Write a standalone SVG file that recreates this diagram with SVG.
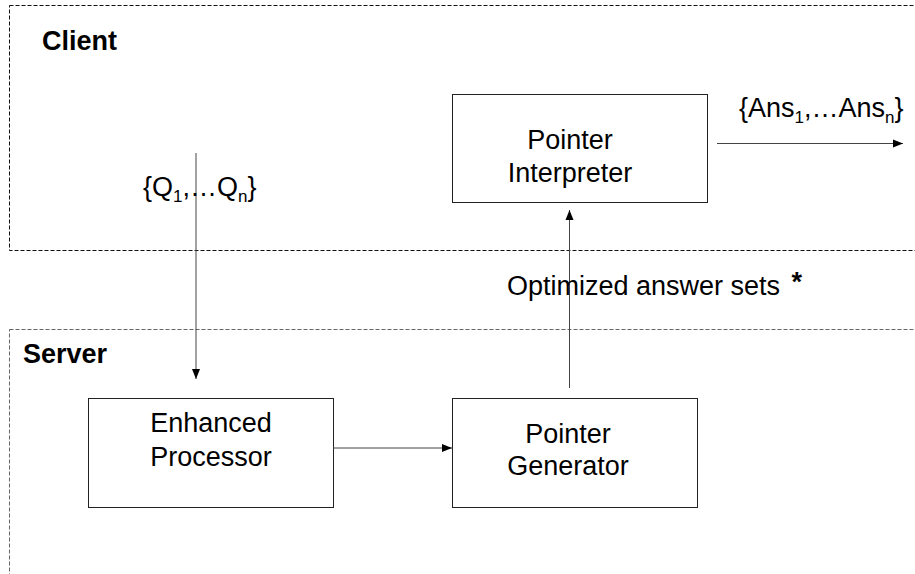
<svg xmlns="http://www.w3.org/2000/svg" width="915" height="574" viewBox="0 0 915 574">
  <style>
    .zone-client { fill: none; stroke: #111; stroke-width: 1; stroke-dasharray: 4 2; }
    .zone-server { fill: none; stroke: #666; stroke-width: 1; stroke-dasharray: 4 2; }
    .box { fill: #fff; stroke: #222; stroke-width: 1; }
    .label { font-family: "Liberation Sans", Arial, sans-serif; font-size: 27px; fill: #000; }
    .title { font-family: "Liberation Sans", Arial, sans-serif; font-size: 27px; font-weight: bold; fill: #000; }
    .edge { fill: none; stroke: #444; stroke-width: 1; }
    .sub { font-family: "Liberation Sans", Arial, sans-serif; font-size: 17px; }
  </style>
  <defs>
    <marker id="arrow" viewBox="0 0 10 10" refX="10" refY="5" markerWidth="10" markerHeight="10" markerUnits="userSpaceOnUse" orient="auto">
      <path d="M0,1 L10,5 L0,9 Z" fill="#000"/>
    </marker>
  </defs>

  <rect width="915" height="574" fill="#fff"/>

  <!-- tier zones -->
  <g id="client-zone">
    <rect class="zone-client" x="9.5" y="5.5" width="920" height="245"/>
    <text class="title" x="42" y="50">Client</text>
  </g>
  <g id="server-zone">
    <rect class="zone-server" x="9.5" y="329.5" width="920" height="260"/>
    <text class="title" x="23" y="363">Server</text>
  </g>

  <!-- nodes -->
  <g id="pointer-interpreter">
    <rect class="box" x="452.5" y="94.5" width="255" height="108"/>
    <text class="label" text-anchor="middle" x="570" y="149">Pointer</text>
    <text class="label" text-anchor="middle" x="570" y="182">Interpreter</text>
  </g>
  <g id="enhanced-processor">
    <rect class="box" x="88.5" y="398.5" width="245" height="109"/>
    <text class="label" text-anchor="middle" x="211" y="432">Enhanced</text>
    <text class="label" text-anchor="middle" x="211" y="466">Processor</text>
  </g>
  <g id="pointer-generator">
    <rect class="box" x="452.5" y="398.5" width="245" height="109"/>
    <text class="label" text-anchor="middle" x="568" y="443">Pointer</text>
    <text class="label" text-anchor="middle" x="568" y="475">Generator</text>
  </g>

  <!-- connectors -->
  <g id="connectors">
    <line class="edge" x1="196" y1="153" x2="196" y2="379" marker-end="url(#arrow)"/>
    <line class="edge" x1="333" y1="448" x2="452" y2="448" marker-end="url(#arrow)"/>
    <line class="edge" x1="569.5" y1="388" x2="569.5" y2="210" marker-end="url(#arrow)"/>
    <line class="edge" x1="717" y1="143.5" x2="903" y2="143.5" marker-end="url(#arrow)"/>

    <text class="label" x="143" y="196">{Q<tspan class="sub" dy="6">1</tspan><tspan dy="-6">,…Q</tspan><tspan class="sub" dy="6">n</tspan><tspan dy="-6">}</tspan></text>
    <text class="label" x="739" y="117">{Ans<tspan class="sub" dy="6">1</tspan><tspan dy="-6">,…Ans</tspan><tspan class="sub" dy="6">n</tspan><tspan dy="-6">}</tspan></text>
    <text class="label" x="507" y="295">Optimized answer sets <tspan font-weight="bold" dx="4" dy="-4">*</tspan></text>
  </g>
</svg>
